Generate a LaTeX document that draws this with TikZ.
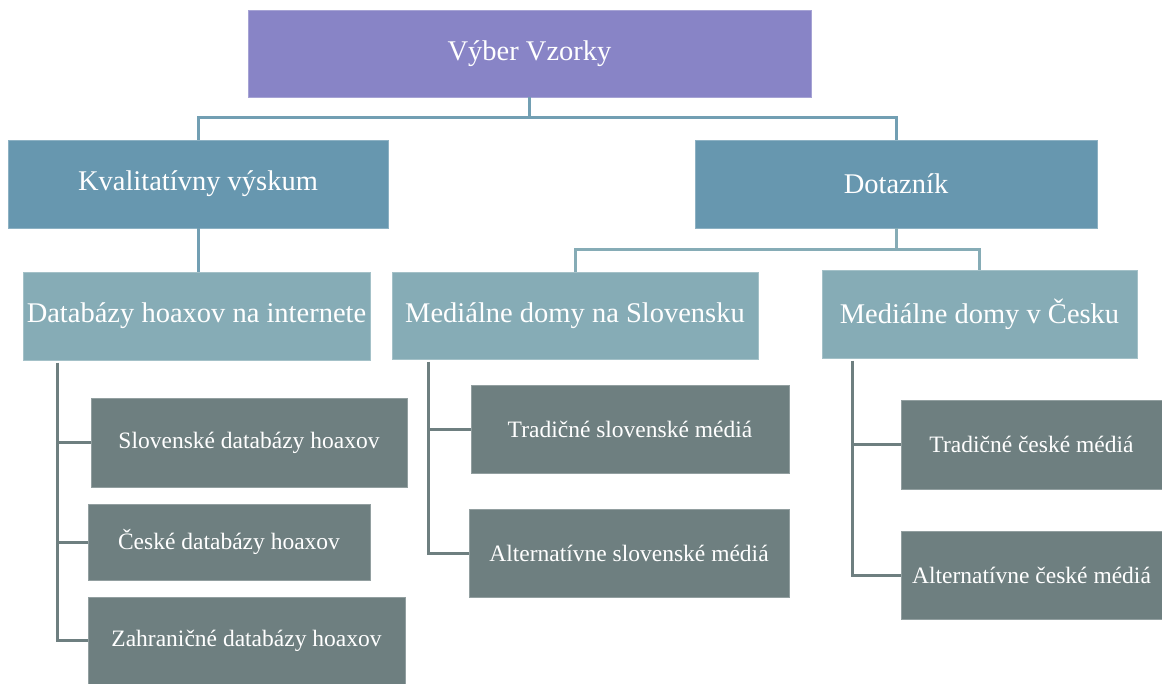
\documentclass[tikz,border=0pt]{standalone}
\usepackage{fontspec}
\setmainfont{Liberation Serif}
\definecolor{cRoot}{HTML}{8884C6}
\definecolor{cOne}{HTML}{6797AF}
\definecolor{cTwo}{HTML}{86ACB6}
\definecolor{cThree}{HTML}{6E7F80}
\definecolor{cLineA}{HTML}{729FB3}
\definecolor{cLineB}{HTML}{86ACB6}
\definecolor{cLineC}{HTML}{6E7F80}
\tikzset{
  box/.style={rectangle, inner sep=0pt, text=white, align=center, line width=0.8pt},
  bigbox/.style={box, font=\fontsize{28.5}{32}\selectfont},
  smallbox/.style={box, font=\fontsize{23.5}{27}\selectfont, fill=cThree, draw=cThree!75!white},
  linkA/.style={draw=cLineA, line width=3pt},
  linkB/.style={draw=cLineB, line width=3pt},
  linkC/.style={draw=cLineC, line width=3pt},
}
\begin{document}
\begin{tikzpicture}[x=1pt, y=-1pt]
\useasboundingbox (0,0) rectangle (1162,684);
% level 0
\node[bigbox, fill=cRoot, draw=cRoot!75!white, minimum width=563pt, minimum height=87pt] (root) at (529.5,53.5) {Výber Vzorky};
% level 1
\node[bigbox, fill=cOne, draw=cOne!75!white, minimum width=380pt, minimum height=88pt] (kval) at (198,184) {Kvalitatívny výskum};
\node[bigbox, fill=cOne, draw=cOne!75!white, minimum width=402pt, minimum height=88pt] (dot) at (896,184) {Dotazník};
% level 2
\node[bigbox, fill=cTwo, draw=cTwo!75!white, minimum width=347pt, minimum height=88pt] (db) at (196.5,316) {Databázy hoaxov na internete};
\node[bigbox, fill=cTwo, draw=cTwo!75!white, minimum width=366pt, minimum height=87pt] (msk) at (575,315.5) {Mediálne domy na Slovensku};
\node[bigbox, fill=cTwo, draw=cTwo!75!white, minimum width=315pt, minimum height=88pt] (mcz) at (979.5,314) {Mediálne domy v Česku};
% level 3
\node[smallbox, minimum width=316pt, minimum height=89pt] (s1) at (249,442.5) {Slovenské databázy hoaxov};
\node[smallbox, minimum width=282pt, minimum height=76pt] (s2) at (229,542) {České databázy hoaxov};
\node[smallbox, minimum width=317pt, minimum height=87pt] (s3) at (246.5,640.5) {Zahraničné databázy hoaxov};
\node[smallbox, minimum width=318pt, minimum height=88pt] (t1) at (630,429) {Tradičné slovenské médiá};
\node[smallbox, minimum width=320pt, minimum height=88pt] (t2) at (629,553) {Alternatívne slovenské médiá};
\node[smallbox, minimum width=261pt, minimum height=89pt] (c1) at (1031.5,444.5) {Tradičné české médiá};
\node[smallbox, minimum width=261pt, minimum height=88pt] (c2) at (1031.5,575) {Alternatívne české médiá};
% connectors
\coordinate (j1) at (529.5,118);
\draw[linkA] (root.south) -- (j1) -| (kval.north);
\draw[linkA] (j1) -| (dot.north);
\draw[linkA] (kval.south) -- (kval.south |- db.north);
\coordinate (j2) at (896,250);
\draw[linkB] (dot.south) -- (j2) -| (msk.north);
\draw[linkB] (j2) -| (mcz.north);
\coordinate (d0) at (57,363);
\draw[linkC] (d0) |- (s1.west);
\draw[linkC] (d0) |- (s2.west);
\draw[linkC] (d0) |- (s3.west);
\coordinate (m0) at (428,362);
\draw[linkC] (m0) |- (t1.west);
\draw[linkC] (m0) |- (t2.west);
\coordinate (n0) at (852,361);
\draw[linkC] (n0) |- (c1.west);
\draw[linkC] (n0) |- (c2.west);
\end{tikzpicture}
\end{document}
